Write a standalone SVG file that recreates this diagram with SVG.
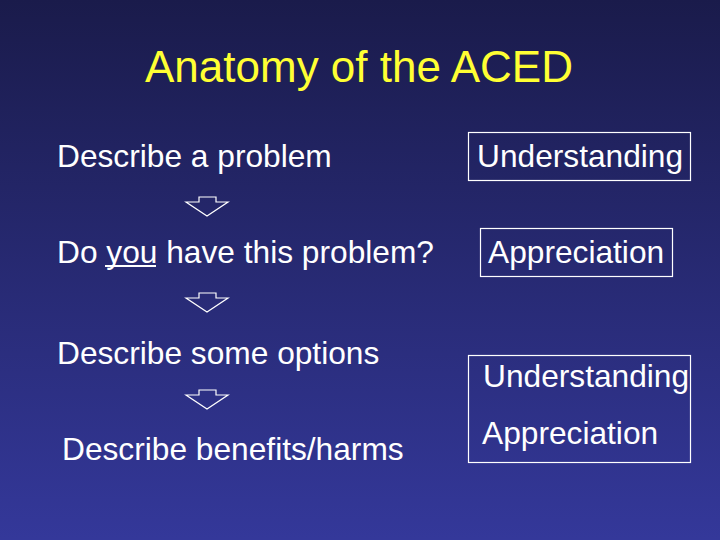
<svg xmlns="http://www.w3.org/2000/svg" width="720" height="540" viewBox="0 0 720 540">
<defs>
<linearGradient id="bg" x1="0" y1="0" x2="0" y2="1">
<stop offset="0" stop-color="#1a1b4b"/>
<stop offset="1" stop-color="#34389a"/>
</linearGradient>
<style>
.t{font-family:"Liberation Sans",Arial,sans-serif;font-size:31.7px;fill:#ffffff}
.title{font-family:"Liberation Sans",Arial,sans-serif;font-size:44px;fill:#ffff33}
.box{fill:none;stroke:#ffffff;stroke-width:1.2}
.arr{fill:none;stroke:#ffffff;stroke-width:1.2;stroke-linejoin:miter}
</style>
<path id="arrow" d="M199,197 L216,197 L216,202 L228,202 L207,216 L186,202 L199,202 Z"/>
</defs>
<rect x="0" y="0" width="720" height="540" fill="url(#bg)"/>
<g id="title"><text class="title" x="145" y="82">Anatomy of the ACED</text></g>
<g id="step1"><text class="t" x="57" y="167">Describe a problem</text></g>
<g id="step2"><text class="t" x="57" y="263">Do you have this problem?</text>
<line x1="105" y1="266" x2="156" y2="266" stroke="#ffffff" stroke-width="2"/></g>
<g id="step3"><text class="t" x="57" y="364">Describe some options</text></g>
<g id="step4"><text class="t" x="62" y="460">Describe benefits/harms</text></g>
<g id="box1"><rect class="box" x="468.5" y="132.5" width="222" height="48"/><text class="t" x="477" y="167">Understanding</text></g>
<g id="box2"><rect class="box" x="480.5" y="228.5" width="192" height="48"/><text class="t" x="488" y="263">Appreciation</text></g>
<g id="box3"><rect class="box" x="468.5" y="355.5" width="222" height="107"/><text class="t" x="483" y="387">Understanding</text><text class="t" x="482" y="444">Appreciation</text></g>
<g id="connectors">
<use href="#arrow" class="arr"/>
<use href="#arrow" class="arr" transform="translate(0,96)"/>
<use href="#arrow" class="arr" transform="translate(0,193)"/>
</g>
</svg>
